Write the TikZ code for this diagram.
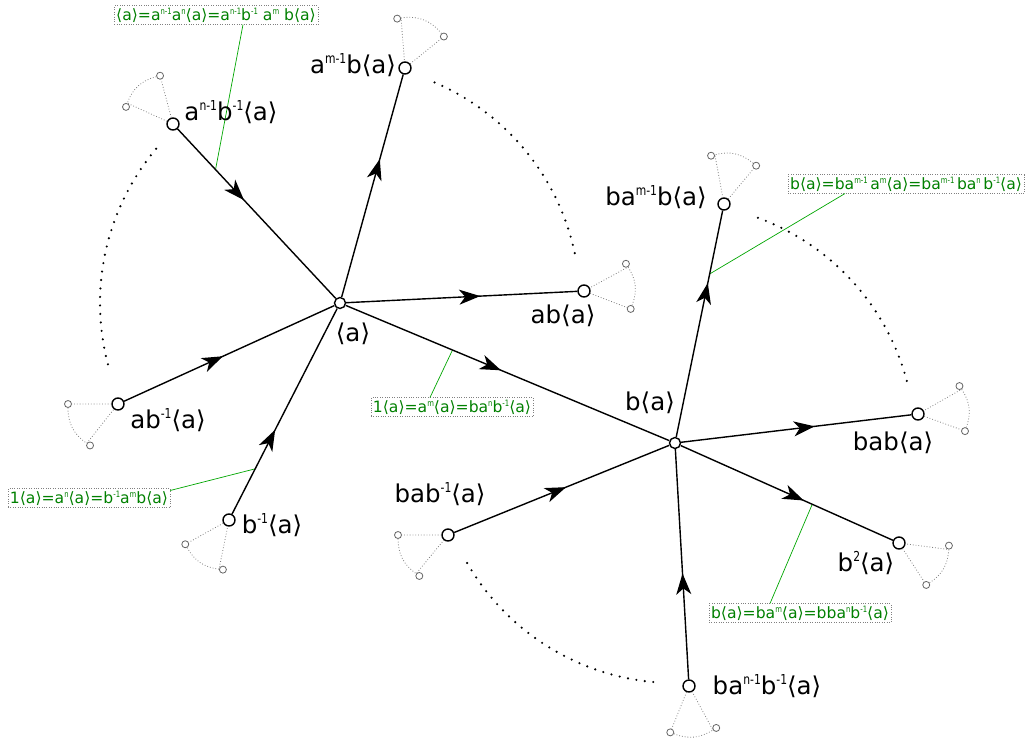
\documentclass[tikz,border=0pt]{standalone}
\usepackage{fontspec}
\setmainfont{DejaVu Sans}
\usepackage{graphicx}
\usetikzlibrary{arrows.meta,decorations.markings}
\newcommand{\sps}[1]{\raisebox{0.4em}{\scalebox{0.44}[0.56]{#1}}}

\begin{document}
\begin{tikzpicture}[x=1pt,y=-1pt,
  vtx/.style={circle,draw,fill=white,line width=1.4pt,inner sep=0pt,minimum size=12pt},
  leafdot/.style={circle,draw=black!60,fill=white,line width=0.8pt,inner sep=0pt,minimum size=7pt},
  link/.style={line width=1.4pt},
  midarrow/.style={postaction=decorate,decoration={markings,mark=at position #1 with {\arrow{Stealth[length=21pt,width=15pt,inset=6pt]}}}},
  fan/.style={black!50,dotted,line width=0.8pt},
  arcdots/.style={line width=2.4pt,line cap=round,dash pattern=on 0pt off 8.5pt},
  lbl/.style={font=\fontsize{24.5}{29}\selectfont,inner sep=0pt},
  eqbox/.style={draw=black!50,dotted,text=green!50!black,font=\fontsize{15.6}{17}\selectfont,inner sep=2pt,fill=white},
  eqline/.style={green!65!black,line width=0.7pt}]

\fill[white] (0,0) rectangle (1027,744);
\useasboundingbox (0,0) rectangle (1027,744);

\node[vtx,minimum size=11pt] (A) at (340,303) {};
\node[vtx,minimum size=11pt] (B) at (675,443) {};
\node[vtx] (amb) at (405,68) {};
\node[vtx] (anb) at (173,124) {};
\node[vtx] (ab) at (584,291) {};
\node[vtx] (abi) at (118,404) {};
\node[vtx] (bi) at (229,520) {};
\node[vtx] (bamb) at (724,204) {};
\node[vtx] (bab) at (918,414) {};
\node[vtx] (bb) at (899,543) {};
\node[vtx] (banb) at (689,686) {};
\node[vtx] (babi) at (448,535) {};

\path (anb) -- (A) coordinate[pos=0.24] (g1);
\path (B) -- (bamb) coordinate[pos=0.72] (g2);
\path (A) -- (B) coordinate[pos=0.33] (g3);
\path (bi) -- (A) coordinate[pos=0.22] (g4);
\path (B) -- (bb) coordinate[pos=0.62] (g5);

\node[eqbox] (e1) at (216,15) {⟨a⟩=a\sps{n-1}a\sps{n}⟨a⟩=a\sps{n-1}b\sps{-1} a\sps{m} b⟨a⟩};
\node[eqbox] (e2) at (906,184) {b⟨a⟩=ba\sps{m-1}\,a\sps{m}⟨a⟩=ba\sps{m-1}\,ba\sps{n}\,b\sps{-1}⟨a⟩};
\node[eqbox] (e3) at (452,407) {1⟨a⟩=a\sps{m}⟨a⟩=ba\sps{n}b\sps{-1}⟨a⟩};
\node[eqbox] (e4) at (89,498) {1⟨a⟩=a\sps{n}⟨a⟩=b\sps{-1}a\sps{m}b⟨a⟩};
\node[eqbox] (e5) at (800,613) {b⟨a⟩=ba\sps{m}⟨a⟩=bba\sps{n}b\sps{-1}⟨a⟩};

\draw[eqline] ([xshift=27pt]e1.south) -- (g1);
\draw[eqline] ([xshift=-61pt]e2.south) -- (g2);
\draw[eqline] ([xshift=-22pt]e3.north) -- (g3);
\draw[eqline] ([yshift=-2pt]e4.north east) -- (g4);
\draw[eqline] ([xshift=-30pt]e5.north) -- (g5);

\draw[link,midarrow=0.62] (A) -- (amb);
\draw[link,midarrow=0.42] (anb) -- (A);
\draw[link,midarrow=0.58] (A) -- (ab);
\draw[link,midarrow=0.47] (abi) -- (A);
\draw[link,midarrow=0.41] (bi) -- (A);
\draw[link,midarrow=0.48] (A) -- (B);
\draw[link,midarrow=0.68] (B) -- (bamb);
\draw[link,midarrow=0.58] (B) -- (bab);
\draw[link,midarrow=0.58] (B) -- (bb);
\draw[link,midarrow=0.46] (banb) -- (B);
\draw[link,midarrow=0.52] (babi) -- (B);

\node[leafdot] (amb-1) at ([shift={(39:50pt)}]amb) {};
\node[leafdot] (amb-2) at ([shift={(99:50pt)}]amb) {};
\draw[fan] (amb) -- (amb-1) to[bend right=30] (amb-2) -- (amb);
\node[leafdot] (anb-1) at ([shift={(105:50pt)}]anb) {};
\node[leafdot] (anb-2) at ([shift={(160:50pt)}]anb) {};
\draw[fan] (anb) -- (anb-1) to[bend right=28] (anb-2) -- (anb);
\node[leafdot] (ab-1) at ([shift={(-21:50pt)}]ab) {};
\node[leafdot] (ab-2) at ([shift={(33:50pt)}]ab) {};
\draw[fan] (ab) -- (ab-1) to[bend right=27] (ab-2) -- (ab);
\node[leafdot] (abi-1) at ([shift={(180:50pt)}]abi) {};
\node[leafdot] (abi-2) at ([shift={(236:50pt)}]abi) {};
\draw[fan] (abi) -- (abi-1) to[bend right=28] (abi-2) -- (abi);
\node[leafdot] (bi-1) at ([shift={(209:50pt)}]bi) {};
\node[leafdot] (bi-2) at ([shift={(263:50pt)}]bi) {};
\draw[fan] (bi) -- (bi-1) to[bend right=27] (bi-2) -- (bi);
\node[leafdot] (bamb-1) at ([shift={(50:50pt)}]bamb) {};
\node[leafdot] (bamb-2) at ([shift={(105:50pt)}]bamb) {};
\draw[fan] (bamb) -- (bamb-1) to[bend right=27] (bamb-2) -- (bamb);
\node[leafdot] (bab-1) at ([shift={(-20:50pt)}]bab) {};
\node[leafdot] (bab-2) at ([shift={(34:50pt)}]bab) {};
\draw[fan] (bab) -- (bab-1) to[bend right=27] (bab-2) -- (bab);
\node[leafdot] (bb-1) at ([shift={(-57:50pt)}]bb) {};
\node[leafdot] (bb-2) at ([shift={(-3:50pt)}]bb) {};
\draw[fan] (bb) -- (bb-1) to[bend right=27] (bb-2) -- (bb);
\node[leafdot] (banb-1) at ([shift={(248:50pt)}]banb) {};
\node[leafdot] (banb-2) at ([shift={(303:50pt)}]banb) {};
\draw[fan] (banb) -- (banb-1) to[bend right=27] (banb-2) -- (banb);
\node[leafdot] (babi-1) at ([shift={(180:50pt)}]babi) {};
\node[leafdot] (babi-2) at ([shift={(235:50pt)}]babi) {};
\draw[fan] (babi) -- (babi-1) to[bend right=27] (babi-2) -- (babi);

\draw[arcdots] (A) ++(140:240pt) arc[start angle=140,end angle=196,radius=240pt];
\draw[arcdots] (A) ++(12:240pt) arc[start angle=12,end angle=67,radius=240pt];
\draw[arcdots] (B) ++(15:240pt) arc[start angle=15,end angle=71,radius=240pt];
\draw[arcdots] (B) ++(210:240pt) arc[start angle=210,end angle=266,radius=240pt];

\node[lbl] (lA) at (353,334) {⟨a⟩};
\node[lbl] (lB) at (650,403) {b⟨a⟩};
\node[lbl] (lamb) at (353,65) {a\sps{m-1}b⟨a⟩};
\node[lbl] (lanb) at (231,112) {a\sps{n-1}b\sps{-1}⟨a⟩};
\node[lbl] (lab) at (563,316) {ab⟨a⟩};
\node[lbl] (labi) at (168,420) {ab\sps{-1}⟨a⟩};
\node[lbl] (lbi) at (272,525) {b\sps{-1}⟨a⟩};
\node[lbl] (lbamb) at (656,197) {ba\sps{m-1}b⟨a⟩};
\node[lbl] (lbab) at (893,443) {bab⟨a⟩};
\node[lbl] (lbabi) at (440,494) {bab\sps{-1}⟨a⟩};
\node[lbl] (lbb) at (866,563) {b\sps{2}⟨a⟩};
\node[lbl] (lbanb) at (767,686) {ba\sps{n-1}b\sps{-1}⟨a⟩};

\end{tikzpicture}
\end{document}
